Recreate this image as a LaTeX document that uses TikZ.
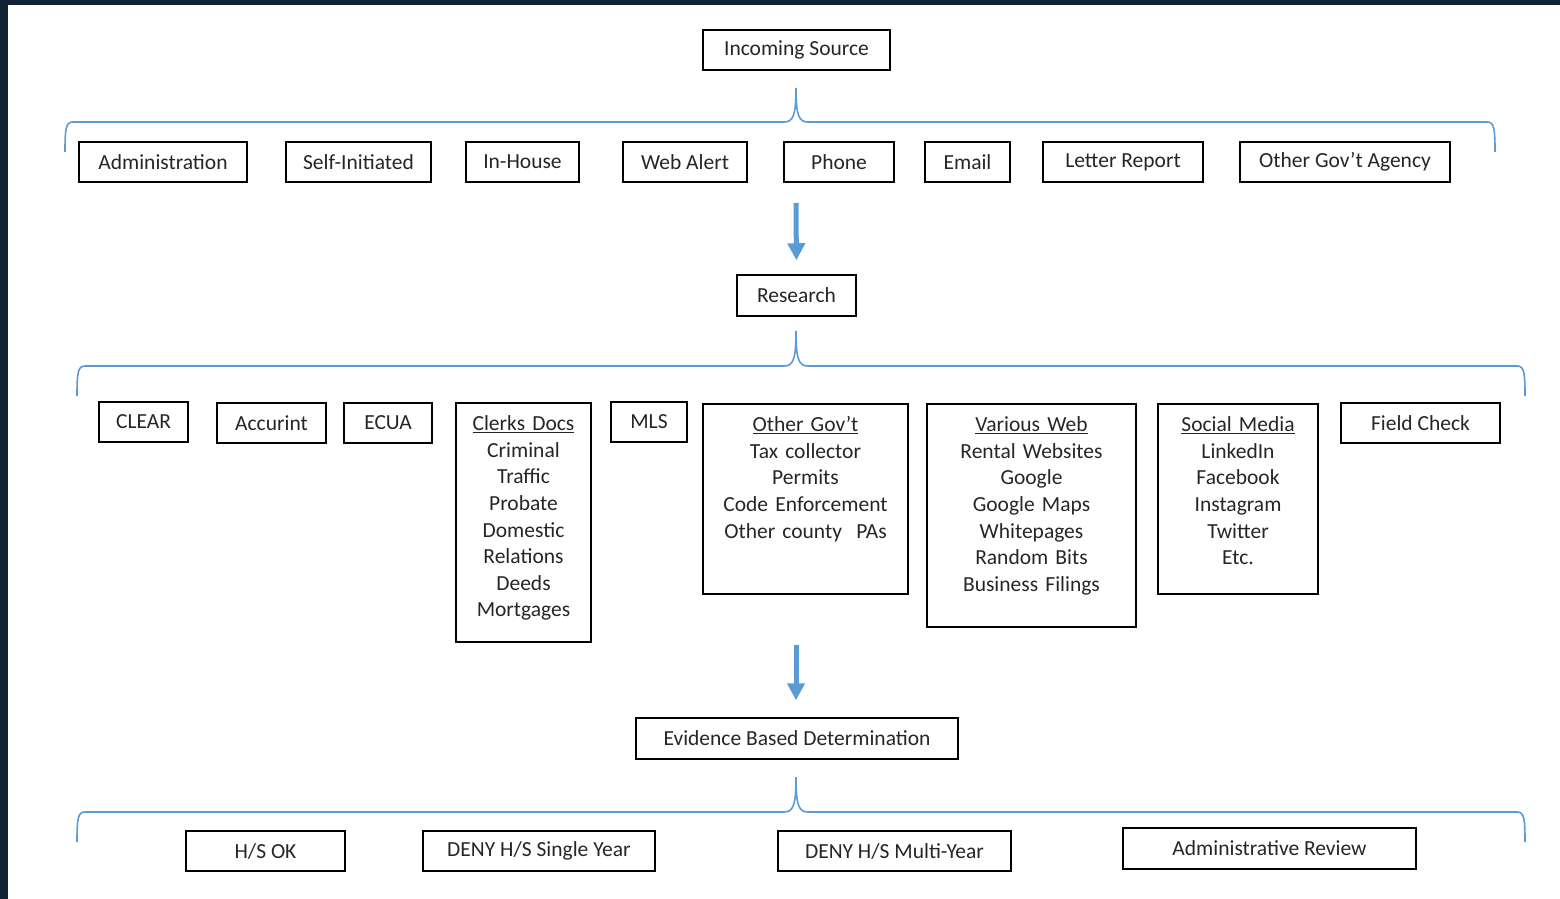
\documentclass[tikz,border=0pt]{standalone}
\usepackage{fontspec}
\setmainfont{Carlito}
\usepackage{xcolor}
\usetikzlibrary{arrows.meta}
\definecolor{bgdark}{HTML}{0E2135}
\definecolor{flowblue}{HTML}{5B9BD5}
\definecolor{boxtext}{HTML}{262626}

\begin{document}
\begin{tikzpicture}[x=1pt,y=-1pt,
      box/.style={draw=black, line width=1.5pt, text=boxtext, minimum height=40pt, inner sep=0pt, font={\fontsize{21.5pt}{26.6pt}\selectfont}},
      listbox/.style={box, align=center, anchor=north, text height=28pt, inner ysep=0pt},
      brace/.style={flowblue, line width=1.6pt},
      flow/.style={flowblue, line width=5pt, -{Triangle[width=17pt,length=17pt]}}]

    %draw background and page
    \fill[bgdark] (0,0) rectangle (1560,899);
    \fill[white] (8,5) rectangle (1560,899);

    %draw source
    \node[box, minimum width=187pt] (incoming) at (796.5,50) {Incoming Source};

    %draw braces
    \foreach \l/\r/\y/\t in {65/1495/122/88, 77/1525/366/331, 77/1525/812/777}{
      \draw[brace] (\l,\y+30) .. controls (\l,\y+6) and (\l+1,\y) .. (\l+8,\y) -- (784,\y) .. controls (793,\y) and (796,\y-6) .. (796,\t);
      \draw[brace] (\r,\y+30) .. controls (\r,\y+6) and (\r-1,\y) .. (\r-8,\y) -- (808,\y) .. controls (799,\y) and (796,\y-6) .. (796,\t);
    }

    %draw first row
    \node[box, minimum width=168pt] (admin)    at (163,162)    {Administration};
    \node[box, minimum width=145pt] (self)     at (358.5,162)  {Self-Initiated};
    \node[box, minimum width=113pt] (inhouse)  at (522.5,162)  {In-House};
    \node[box, minimum width=124pt] (webalert) at (685,162)    {Web Alert};
    \node[box, minimum width=110pt] (phone)    at (839,162)    {Phone};
    \node[box, minimum width=85pt]  (email)    at (967.5,162)  {Email};
    \node[box, minimum width=160pt] (letter)   at (1123,162)   {Letter Report};
    \node[box, minimum width=210pt] (agency)   at (1345,162)   {Other Gov’t Agency};

    %draw research
    \node[box, minimum width=119pt, minimum height=41pt] (research) at (796.5,295.5) {Research};
    \coordinate (flowAtop) at (796,203);
    \draw[flow, shorten >=14pt] (flowAtop) -- (research.north);

    %draw second row
    \node[box, minimum width=89pt]  (clear)    at (143.5,422)  {CLEAR};
    \node[box, minimum width=109pt] (accurint) at (271.5,423)  {Accurint};
    \node[box, minimum width=88pt]  (ecua)     at (388,423)    {ECUA};
    \node[box, minimum width=76pt]  (mls)      at (649,422)    {MLS};
    \node[box, minimum width=159pt] (field)    at (1420.5,423) {Field Check};

    \node[listbox, text width=135pt, text depth=211pt] (clerks) at (523.5,402)
      {\underline{Clerks Docs}\\Criminal\\Traffic\\Probate\\Domestic\\Relations\\Deeds\\Mortgages};
    \node[listbox, text width=205pt, text depth=162pt] (govt) at (805.5,403)
      {\underline{Other Gov’t}\\Tax collector\\Permits\\Code Enforcement\\Other county~ PAs};
    \node[listbox, text width=209pt, text depth=195pt] (web) at (1031.5,403)
      {\underline{Various Web}\\Rental Websites\\Google\\Google Maps\\Whitepages\\Random Bits\\Business Filings};
    \node[listbox, text width=160pt, text depth=162pt] (social) at (1238,403)
      {\underline{Social Media}\\LinkedIn\\Facebook\\Instagram\\Twitter\\Etc.};

    %draw determination
    \node[box, minimum width=322pt, minimum height=41pt] (evidence) at (797,738.5) {Evidence Based Determination};
    \coordinate (flowBtop) at (796,645);
    \draw[flow, shorten >=17pt] (flowBtop) -- (evidence.north -| flowBtop);

    %draw outcomes
    \node[box, minimum width=159pt] (hsok)   at (265.5,851)  {H/S OK};
    \node[box, minimum width=232pt] (single) at (539,851)    {DENY H/S Single Year};
    \node[box, minimum width=233pt] (multi)  at (894.5,851)  {DENY H/S Multi-Year};
    \node[box, minimum width=293pt, minimum height=41pt] (review) at (1269.5,848.5) {Administrative Review};

  \end{tikzpicture}
\end{document}
